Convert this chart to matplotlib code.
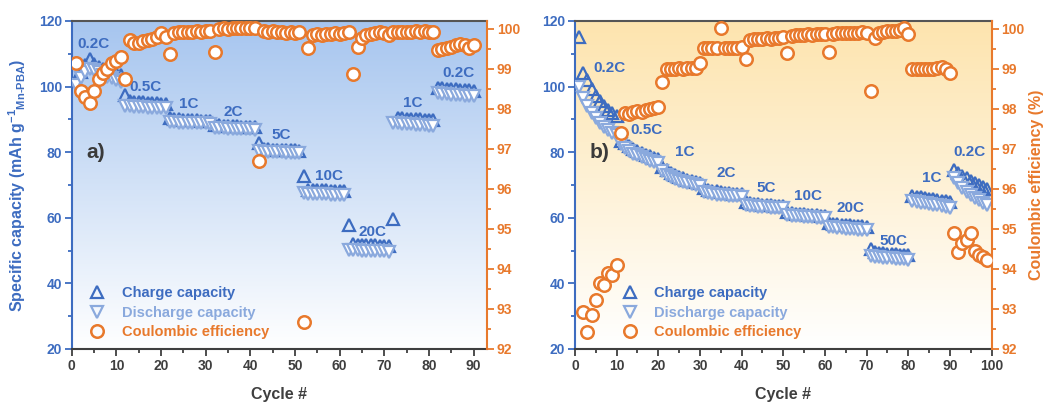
import numpy as np
import matplotlib
matplotlib.use('Agg')
import matplotlib.pyplot as plt
from matplotlib.colors import LinearSegmentedColormap
from matplotlib.lines import Line2D
from matplotlib.ticker import MultipleLocator

plt.rcParams['font.family'] = ['Liberation Sans', 'DejaVu Sans']
plt.rcParams['font.weight'] = 'bold'
plt.rcParams['mathtext.fontset'] = 'custom'
plt.rcParams['mathtext.rm'] = 'Liberation Sans:bold'
plt.rcParams['mathtext.it'] = 'Liberation Sans:bold'
plt.rcParams['mathtext.bf'] = 'Liberation Sans:bold'
plt.rcParams['mathtext.default'] = 'rm'

# ---------------- data: panel a ----------------
charge_a = [102.0, 104.5, 106.5, 108.3, 107.0, 106.0, 105.3, 104.8, 104.3, 104.0, 103.6,   # 0.2C
            97.4, 95.6, 95.4, 95.3, 95.2, 95.1, 95.0, 94.9, 94.8, 94.7,                     # 0.5C
            90.3, 90.1, 90.0, 89.9, 89.8, 89.7, 89.7, 89.6, 89.5, 89.5,                     # 1C
            88.3, 88.2, 88.1, 88.0, 87.9, 87.9, 87.8, 87.7, 87.7, 87.6,                     # 2C
            82.9, 81.0, 80.9, 80.8, 80.8, 80.7, 80.7, 80.6, 80.6, 80.5,                     # 5C
            72.7, 68.6, 68.5, 68.5, 68.4, 68.4, 68.3, 68.3, 68.2, 68.2,                     # 10C
            57.8, 51.9, 51.8, 51.7, 51.7, 51.6, 51.6, 51.5, 51.5, 51.4,                     # 20C
            59.5, 90.4, 90.3, 90.2, 90.1, 90.0, 90.0, 89.9, 89.9, 89.8,                     # 1C
            99.6, 99.5, 99.4, 99.3, 99.2, 99.1, 99.0, 98.9, 98.8]                           # 0.2C
discharge_a = [100.5, 102.5, 104.5, 105.5, 105.0, 104.3, 103.6, 103.0, 102.5, 102.0, 101.5,
               94.2, 94.0, 93.9, 93.8, 93.7, 93.6, 93.5, 93.5, 93.4, 93.4,
               89.2, 89.1, 89.0, 89.0, 88.9, 88.9, 88.8, 88.8, 88.8, 88.7,
               87.4, 87.3, 87.3, 87.2, 87.2, 87.1, 87.1, 87.0, 87.0, 86.9,
               80.3, 80.2, 80.1, 80.1, 80.0, 80.0, 79.9, 79.9, 79.9, 79.8,
               67.5, 67.4, 67.3, 67.3, 67.2, 67.2, 67.1, 67.1, 67.0, 67.0,
               50.3, 50.2, 50.1, 50.0, 50.0, 49.9, 49.9, 49.8, 49.8, 49.7,
               88.9, 88.8, 88.7, 88.6, 88.5, 88.4, 88.3, 88.2, 88.1, 88.0,
               97.9, 97.8, 97.6, 97.5, 97.4, 97.3, 97.2, 97.1, 97.0]
ce_a = [99.15, 98.45, 98.30, 98.15, 98.45, 98.75, 98.90, 99.00, 99.15, 99.20, 99.30,
        98.75, 99.72, 99.65, 99.66, 99.70, 99.72, 99.75, 99.80, 99.90, 99.80,
        99.37, 99.90, 99.92, 99.93, 99.92, 99.93, 99.94, 99.93, 99.94, 99.95,
        99.42, 100.00, 100.02, 100.01, 100.03, 100.02, 100.03, 100.02, 100.03, 100.02,
        96.70, 99.95, 99.93, 99.94, 99.92, 99.93, 99.91, 99.92, 99.90, 99.92,
        92.68, 99.52, 99.85, 99.88, 99.86, 99.88, 99.87, 99.89, 99.88, 99.90,
        99.92, 98.87, 99.56, 99.77, 99.85, 99.88, 99.90, 99.92, 99.90, 99.85,
        99.92, 99.93, 99.92, 99.93, 99.93, 99.94, 99.93, 99.94, 99.93, 99.93,
        99.47, 99.50, 99.52, 99.55, 99.60, 99.63, 99.60, 99.52, 99.60]

# ---------------- data: panel b ----------------
charge_b = [115.2, 104.0, 102.0, 99.4, 97.0, 95.5, 94.2, 93.0, 92.0, 91.0,        # 0.2C
            83.5, 82.7, 81.8, 81.0, 80.3, 79.7, 79.2, 78.7, 78.3, 77.9,           # 0.5C
            75.5, 74.5, 73.7, 73.0, 72.5, 72.0, 71.6, 71.2, 70.9, 70.6,           # 1C
            69.0, 68.6, 68.3, 68.1, 67.9, 67.7, 67.6, 67.4, 67.3, 67.2,           # 2C
            64.8, 64.5, 64.3, 64.2, 64.0, 63.9, 63.8, 63.7, 63.6, 63.5,           # 5C
            61.8, 61.5, 61.3, 61.2, 61.1, 61.0, 60.9, 60.8, 60.7, 60.6,           # 10C
            58.5, 58.2, 58.0, 57.9, 57.8, 57.7, 57.6, 57.5, 57.4, 57.3,           # 20C
            50.5, 49.6, 49.4, 49.2, 49.1, 49.0, 48.9, 48.8, 48.7, 48.6,           # 50C
            66.6, 66.4, 66.2, 66.0, 65.8, 65.6, 65.4, 65.2, 65.0, 64.8,           # 1C
            74.5, 73.6, 72.8, 72.0, 71.3, 70.6, 70.0, 69.4, 68.8]                 # 0.2C
discharge_b = [99.8, 96.5, 94.0, 92.0, 90.3, 89.0, 87.8, 86.8, 86.0, 85.2,
               82.5, 81.3, 80.4, 79.6, 79.0, 78.4, 77.9, 77.4, 77.0, 76.7,
               74.2, 73.2, 72.4, 71.8, 71.3, 70.9, 70.5, 70.2, 69.9, 69.7,
               67.8, 67.5, 67.2, 67.0, 66.9, 66.8, 66.7, 66.6, 66.5, 66.4,
               63.8, 63.6, 63.5, 63.4, 63.3, 63.2, 63.1, 63.0, 62.95, 62.9,
               60.8, 60.6, 60.5, 60.4, 60.3, 60.2, 60.1, 60.0, 59.9, 59.8,
               57.3, 57.1, 56.9, 56.8, 56.7, 56.6, 56.5, 56.4, 56.35, 56.3,
               48.4, 48.2, 48.0, 47.8, 47.7, 47.6, 47.5, 47.4, 47.3, 47.1,
               65.0, 64.8, 64.6, 64.4, 64.2, 64.0, 63.8, 63.6, 63.3, 63.0,
               72.0, 70.5, 69.2, 68.0, 67.0, 66.1, 65.3, 64.6, 64.0]
ce_b = [86.6, 92.93, 92.43, 92.85, 93.23, 93.64, 93.60, 93.90, 93.85, 94.10,
        97.40, 97.90, 97.88, 97.92, 97.95, 97.93, 97.97, 98.00, 98.02, 98.06,
        98.68, 99.00, 99.00, 99.00, 99.02, 99.00, 99.02, 99.03, 99.02, 99.15,
        99.52, 99.52, 99.52, 99.53, 100.02, 99.52, 99.53, 99.52, 99.53, 99.55,
        99.25, 99.72, 99.75, 99.75, 99.76, 99.77, 99.76, 99.78, 99.77, 99.80,
        99.39, 99.83, 99.85, 99.86, 99.85, 99.87, 99.86, 99.87, 99.88, 99.88,
        99.43, 99.88, 99.90, 99.90, 99.89, 99.90, 99.91, 99.90, 99.92, 99.90,
        98.45, 99.77, 99.90, 99.93, 99.95, 99.95, 99.96, 99.97, 100.02, 99.87,
        99.00, 99.00, 98.99, 99.00, 99.00, 99.01, 99.02, 99.05, 99.00, 98.90,
        94.90, 94.43, 94.64, 94.73, 94.90, 94.45, 94.35, 94.30, 94.23]

# rate labels (text, cycle, capacity)
rates_a = [('0.2C', 4.9, 113.0), ('0.5C', 16.6, 100.0), ('1C', 26.3, 94.8), ('2C', 36.2, 92.3),
           ('5C', 46.8, 85.2), ('10C', 57.6, 72.8), ('20C', 67.3, 55.8), ('1C', 76.3, 94.9),
           ('0.2C', 86.7, 104.2)]
rates_b = [('0.2C', 8.2, 105.6), ('0.5C', 17.2, 86.8), ('1C', 26.4, 80.2), ('2C', 36.4, 73.6),
           ('5C', 46.0, 69.0), ('10C', 56.0, 66.5), ('20C', 66.2, 62.9), ('50C', 76.4, 52.8),
           ('1C', 85.6, 72.0), ('0.2C', 94.8, 80.0)]

BLUE = '#3d6cc0'
LBLUE = '#8aa9dd'
ORANGE = '#e8792c'
GRAY = '#3f3f3f'

fig = plt.figure(figsize=(10.49, 4.03), dpi=100)
axA = fig.add_axes([0.0684, 0.134, 0.3959, 0.8139])
axB = fig.add_axes([0.5481, 0.134, 0.3972, 0.8139])


def panel(ax, charge, discharge, ce, xmax, xtick_max, rates, letter, top_col, ylab_left, ylab_right, leg_x):
    cyc = np.arange(1, len(ce) + 1)
    grad = np.linspace(1, 0, 256).reshape(-1, 1)
    cmap = LinearSegmentedColormap.from_list('g', ['#ffffff', top_col])
    ax.imshow(grad, extent=[0, 1, 0, 1], transform=ax.transAxes, cmap=cmap,
              aspect='auto', zorder=0, origin='upper', interpolation='bilinear')
    ax.plot(cyc, charge, ls='none', marker='^', ms=9, mfc='none', mec=BLUE, mew=1.6, zorder=3)
    ax.plot(cyc, discharge, ls='none', marker='v', ms=9, mfc='white', mec=LBLUE, mew=1.6, zorder=4)
    ax.set_xlim(0, xmax)
    ax.set_ylim(20, 120)
    ax.set_xticks(np.arange(0, xtick_max + 1, 10))
    ax.xaxis.set_minor_locator(MultipleLocator(5))
    ax.set_yticks(np.arange(20, 121, 20))
    ax.yaxis.set_minor_locator(MultipleLocator(10))
    ax.tick_params(axis='x', which='both', direction='out', colors=GRAY, labelsize=10, width=1.3)
    ax.tick_params(axis='x', which='major', length=5, pad=2)
    ax.tick_params(axis='x', which='minor', length=3)
    ax.tick_params(axis='y', which='both', direction='out', colors=BLUE, labelsize=10, width=1.3)
    ax.tick_params(axis='y', which='major', length=5, pad=2)
    ax.tick_params(axis='y', which='minor', length=3)
    for t in ax.get_xticklabels() + ax.get_yticklabels():
        t.set_fontweight('bold')
    ax.spines['left'].set_color(BLUE)
    ax.spines['left'].set_linewidth(1.5)
    ax.spines['bottom'].set_color(GRAY)
    ax.spines['bottom'].set_linewidth(1.5)
    ax.spines['top'].set_color('#555555')
    ax.spines['top'].set_linewidth(1.5)
    ax.spines['right'].set_visible(False)
    ax.set_xlabel('Cycle #', fontsize=11.5, fontweight='bold', color=GRAY)
    ax.xaxis.set_label_coords(0.5, -0.115)
    if ylab_left:
        ax.set_ylabel('Specific capacity (mAh g$^{-1}$$_{Mn\u2010PBA}$)', fontsize=11.5,
                      fontweight='bold', color=BLUE)
        ax.yaxis.set_label_coords(-0.105, 0.5)
    for txt, x, y in rates:
        ax.text(x, y, txt, color=BLUE, fontsize=11, fontweight='bold', ha='center', va='center', zorder=6)
    ax.text(0.058, 0.6, letter, transform=ax.transAxes, fontsize=15, fontweight='bold',
            color='#3a3a3a', ha='center', va='center', zorder=6)

    ax2 = ax.twinx()
    ax2.plot(cyc, ce, ls='none', marker='o', ms=9, mfc='white', mec=ORANGE, mew=1.8, zorder=5)
    ax2.set_ylim(92, 100.2)
    ax2.set_yticks(np.arange(92, 101, 1))
    ax2.yaxis.set_minor_locator(MultipleLocator(0.5))
    ax2.tick_params(axis='y', which='both', direction='out', colors=ORANGE, labelsize=10, width=1.3)
    ax2.tick_params(axis='y', which='major', length=5, pad=2)
    ax2.tick_params(axis='y', which='minor', length=3)
    for t in ax2.get_yticklabels():
        t.set_fontweight('bold')
    for s in ['left', 'top', 'bottom']:
        ax2.spines[s].set_visible(False)
    ax2.spines['right'].set_color(ORANGE)
    ax2.spines['right'].set_linewidth(1.5)
    if ylab_right:
        ax2.set_ylabel('Coulombic efficiency (%)', fontsize=11.5, fontweight='bold', color=ORANGE)
        ax2.yaxis.set_label_coords(1.09, 0.5)

    handles = [Line2D([], [], ls='none', marker='^', ms=9, mfc='none', mec=BLUE, mew=1.6),
               Line2D([], [], ls='none', marker='v', ms=9, mfc='none', mec=LBLUE, mew=1.6),
               Line2D([], [], ls='none', marker='o', ms=9, mfc='none', mec=ORANGE, mew=1.8)]
    leg = ax2.legend(handles, ['Charge capacity', 'Discharge capacity', 'Coulombic efficiency'],
                     loc='lower left', bbox_to_anchor=(leg_x, 0.03), frameon=False,
                     fontsize=10.5, labelcolor='markeredgecolor', handlelength=1.2,
                     handletextpad=1.1, labelspacing=0.38, borderpad=0, borderaxespad=0)
    for t in leg.get_texts():
        t.set_fontweight('bold')
    return ax2


panel(axA, charge_a, discharge_a, ce_a, 93, 90, rates_a, 'a)', '#a6c5ef', True, False, 0.04)
panel(axB, charge_b, discharge_b, ce_b, 100, 100, rates_b, 'b)', '#fde4ae', False, True, 0.11)

fig.savefig('out.png', dpi=100)
